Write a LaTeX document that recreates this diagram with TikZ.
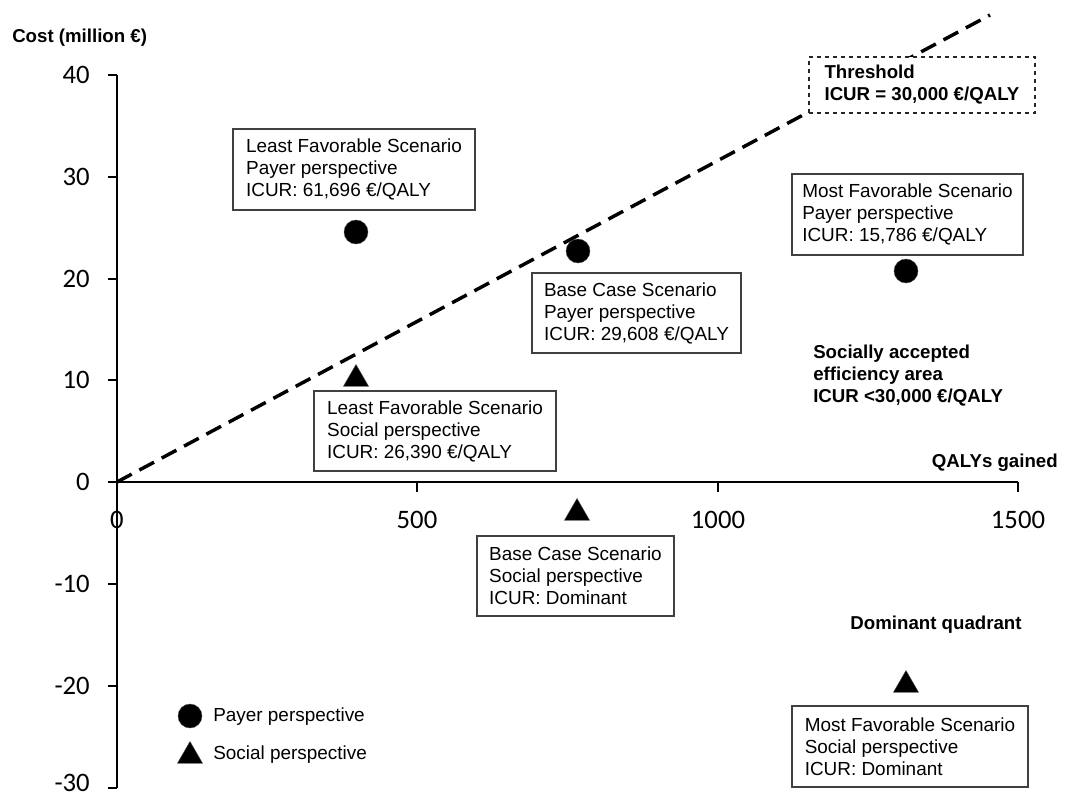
\documentclass[tikz,border=0pt]{standalone}
\usepackage{fontspec}
\setmainfont{Liberation Sans}
\newfontfamily\calfont{Carlito}
\usetikzlibrary{shapes.geometric}
\newdimen\px \px=0.75pt
\begin{document}
\begin{tikzpicture}[x=0.75pt,y=-0.75pt,
  axisline/.style={line width=1.5pt},
  ticklab/.style={font=\calfont\fontsize{20}{24}\selectfont, inner sep=0pt},
  infobox/.style={draw=black!75, fill=white, line width=0.8pt, align=left,
    font=\fontsize{14.2}{16.5}\selectfont, inner sep=0pt},
  threshbox/.style={draw=black!85, fill=white, line width=0.8pt, dashed, align=left,
    font=\bfseries\fontsize{14}{16.5}\selectfont, inner sep=0pt},
  note/.style={font=\bfseries\fontsize{14}{16.5}\selectfont, align=left, inner sep=0pt},
  legtext/.style={font=\fontsize{14.2}{16.5}\selectfont, inner sep=0pt},
  payer/.style={circle, fill=black, draw=black!70, line width=0.3pt, minimum size=24\px, inner sep=0pt},
  social/.style={regular polygon, regular polygon sides=3, fill=black, draw=black!70, line width=0.3pt, minimum size=29\px, inner sep=0pt},
  threshline/.style={line width=2.6pt, dash pattern=on 12.5pt off 6.5pt}
]
\useasboundingbox (0,0) rectangle (1065,796);
\fill[white] (0,0) rectangle (1065,796);

% axes
\coordinate (o) at (117,482);
\coordinate (ytop) at (117,75);
\coordinate (ybot) at (117,788);
\coordinate (xend) at (1018,482);
\coordinate (tend) at (990,15);

% threshold line
\draw[threshline] (o) -- (tend);

\draw[axisline] (ytop) -- (ybot);
\draw[axisline] (o) -- (xend);

\foreach \v/\yy/\ly [count=\i] in {40/75/75,30/177/177,20/279/279,10/380/380,0/482/482,-10/584/584,-20/686/686,-30/788/783}{
  \coordinate (yt\i) at (108,\yy);
  \coordinate (ya\i) at (117,\yy);
  \draw[axisline] (yt\i) -- (ya\i);
  \node[ticklab, anchor=east] (yl\i) at (90,\ly) {\v};
}
\foreach \v/\xx [count=\i] in {500/417,1000/718,1500/1018}{
  \coordinate (xa\i) at (\xx,482);
  \coordinate (xt\i) at (\xx,492);
  \draw[axisline] (xa\i) -- (xt\i);
}
\foreach \v/\xx [count=\i] in {0/117,500/417,1000/718,1500/1018}{
  \node[ticklab] (xl\i) at (\xx,520) {\v};
}

% axis titles
\node[note, anchor=west] (ytitle) at (12,38) {Cost (million €)};
\node[note, anchor=east] (xtitle) at (1058,463) {QALYs gained};

% threshold box
\node[threshbox, minimum width=226\px, minimum height=56\px] (thr) at (922,85)
  {Threshold\\ICUR = 30,000 €/QALY};

% info boxes
\node[infobox, minimum width=242\px, minimum height=81\px] (b1) at (354,169.5)
  {Least Favorable Scenario\\Payer perspective\\ICUR: 61,696 €/QALY};
\node[infobox, minimum width=209\px, minimum height=80\px] (b2) at (636.5,313)
  {Base Case Scenario\\Payer perspective\\ICUR: 29,608 €/QALY};
\node[infobox, minimum width=231\px, minimum height=81\px] (b3) at (907.5,214.5)
  {Most Favorable Scenario\\Payer perspective\\ICUR: 15,786 €/QALY};
\node[infobox, minimum width=242\px, minimum height=80\px] (b4) at (435,431)
  {Least Favorable Scenario\\Social perspective\\ICUR: 26,390 €/QALY};
\node[infobox, minimum width=197\px, minimum height=80\px] (b5) at (575.5,576)
  {Base Case Scenario\\Social perspective\\ICUR: Dominant};
\node[infobox, minimum width=236\px, minimum height=81\px] (b6) at (910,746.5)
  {Most Favorable Scenario\\Social perspective\\ICUR: Dominant};

% markers
\node[payer] (p1) at (356,232) {};
\node[payer] (p2) at (578,251) {};
\node[payer] (p3) at (906,271) {};
\node[social] (s1) at (356,379) {};
\node[social] (s2) at (577,513) {};
\node[social] (s3) at (906,685) {};

% area notes
\node[note, anchor=north west] (area) at (813,345)
  {Socially accepted\\efficiency area\\ICUR <30,000 €/QALY};
\node[note] (dom) at (936,625) {Dominant quadrant};

% legend
\node[payer] (lp) at (190,716) {};
\node[legtext, anchor=west] (lpt) at (213,717) {Payer perspective};
\node[social] (ls) at (190,756) {};
\node[legtext, anchor=west] (lst) at (213,755) {Social perspective};
\end{tikzpicture}
\end{document}
